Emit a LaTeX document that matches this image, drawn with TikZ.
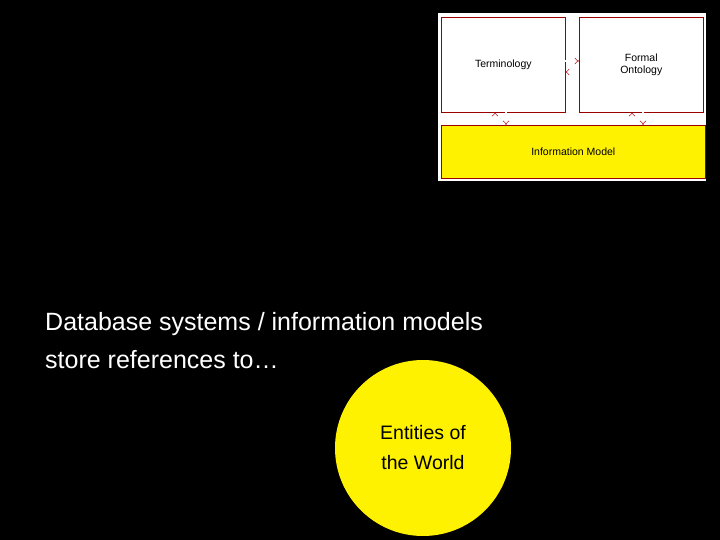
\documentclass[tikz,border=0pt]{standalone}
\usepackage{fontspec}
\setmainfont{Liberation Sans}
\usetikzlibrary{arrows.meta}
\begin{document}
\begin{tikzpicture}[x=1pt,y=-1pt,
  box/.style={draw=red!60!black,line width=0.6pt,anchor=north west,inner sep=0pt},
  dar/.style={double=white,double distance=1.8pt,draw=red!70!black,line width=0.5pt,-{Implies}},
  lbl/.style={font=\fontsize{10.5}{12}\selectfont,align=center}]
\fill[black] (0,0) rectangle (720,540);
\useasboundingbox (0,0) rectangle (720,540);
\fill[white] (438,13) rectangle (706,181);
\node[box,fill=white,minimum width=124pt,minimum height=95pt] (term) at (441,17) {};
\node[lbl] (termt) at (term.center) {Terminology};
\node[box,fill=white,minimum width=124pt,minimum height=95pt] (form) at (579,17) {};
\node[lbl] (formt) at (form.center) {Formal\\Ontology};
\node[box,fill=yellow,minimum width=264pt,minimum height=53pt] (info) at (441,125) {};
\node[lbl] (infot) at (info.center) {Information Model};
\coordinate (a1) at (565,61); \coordinate (a2) at (579,61);
\coordinate (b1) at (579,72); \coordinate (b2) at (565,72);
\draw[dar] (a1) -- (a2);
\draw[dar] (b1) -- (b2);
\coordinate (c1) at (495,125); \coordinate (c2) at (495,112);
\coordinate (d1) at (506,112); \coordinate (d2) at (506,125);
\draw[dar] (c1) -- (c2);
\draw[dar] (d1) -- (d2);
\coordinate (e1) at (632,125); \coordinate (e2) at (632,112);
\coordinate (f1) at (643,112); \coordinate (f2) at (643,125);
\draw[dar] (e1) -- (e2);
\draw[dar] (f1) -- (f2);
\node[white,anchor=north west,align=left,font=\fontsize{25}{38}\selectfont,inner sep=0pt] (txt) at (45,312) {Database systems / information models\\store references to\dots};
\node[circle,fill=yellow,minimum size=176pt,inner sep=0pt] (world) at (423,448) {};
\node[align=center,font=\fontsize{19.5}{30}\selectfont] (worldt) at (world.center) {Entities of\\the World};
\end{tikzpicture}
\end{document}
